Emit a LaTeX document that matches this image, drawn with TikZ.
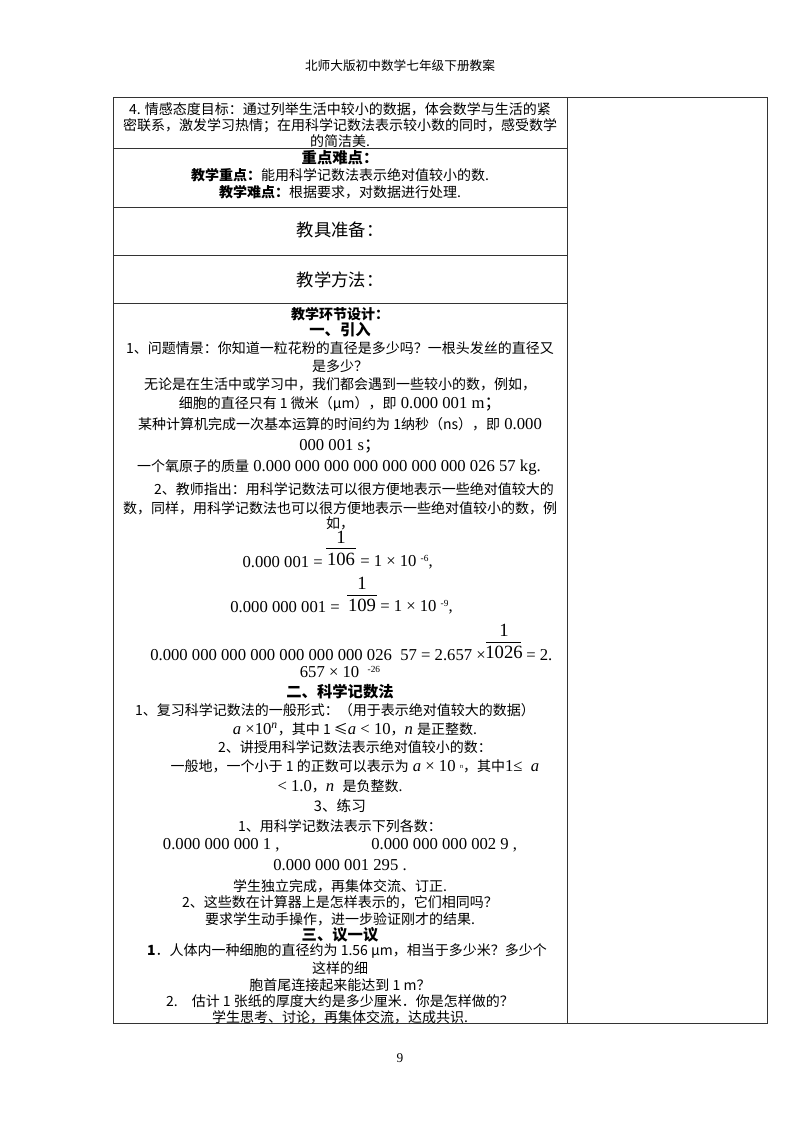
\documentclass[tikz,border=0pt]{standalone}
\usepackage{fontspec}
\setmainfont{Liberation Serif}
\newfontfamily\cjk{Noto Sans CJK SC}
\begin{document}
\begin{tikzpicture}[x=0.75pt,y=-0.75pt,
  t/.style={inner sep=0pt,font=\fontsize{10.5}{12}\selectfont\cjk},
  n/.style={inner sep=0pt,font=\fontsize{12.5}{14}\selectfont},
  fr/.style={inner sep=0pt,font=\fontsize{14}{16}\selectfont},
  h/.style={inner sep=0pt,font=\fontsize{10.5}{12}\selectfont\cjk\bfseries},
  big/.style={inner sep=0pt,font=\fontsize{13}{15}\selectfont\cjk},
  rule/.style={line width=0.6pt,draw=black!80}]
\useasboundingbox[fill=white] (0,0) rectangle (800,1132);
\node[t,font=\fontsize{9.5}{11}\selectfont\cjk] (hdr) at (400,66) {北师大版初中数学七年级下册教案};
\node[n,font=\fontsize{10}{11}\selectfont] (pg) at (400,1058) {9};
% table
\draw[rule] (113,97) rectangle (767,1023);
\draw[rule] (567,97) -- (567,1023);
\foreach \yy in {148,207,255,303} \draw[rule] (113,\yy) -- (567,\yy);
% row 1
\node[t] (a1) at (340,109) {4. 情感态度目标：通过列举生活中较小的数据，体会数学与生活的紧};
\node[t] (a2) at (340,126) {密联系，激发学习热情；在用科学记数法表示较小数的同时，感受数学};
\node[t] (a3) at (340,141) {的简洁美.};
\node[h,font=\fontsize{11.5}{13}\selectfont\cjk\bfseries] (b1) at (340,158) {重点难点：};
\node[t] (b2) at (340,175) {{\bfseries 教学重点：}能用科学记数法表示绝对值较小的数.};
\node[t] (b3) at (340,192) {{\bfseries 教学难点：}根据要求，对数据进行处理.};
\node[big] (c1) at (340,230) {教具准备：};
\node[big] (d1) at (340,280) {教学方法：};
% main
\node[h] (e1) at (340,314) {教学环节设计：};
\node[h,font=\fontsize{11.5}{13}\selectfont\cjk\bfseries] (e2) at (340,330) {一、引入};
\node[t] (e3) at (340,348) {1、问题情景：你知道一粒花粉的直径是多少吗？一根头发丝的直径又};
\node[t] (e4) at (340,366) {是多少？};
\node[t] (e5) at (340,384) {无论是在生活中或学习中，我们都会遇到一些较小的数，例如，};
\node[n] (e6) at (340,404) {{\cjk\fontsize{10.5}{12}\selectfont 细胞的直径只有 1 微米（μm），即} 0.000 001 m{\cjk ；}};
\node[n] (e7) at (340,424) {{\cjk\fontsize{10.5}{12}\selectfont 某种计算机完成一次基本运算的时间约为 1纳秒（ns），即} 0.000};
\node[n] (e8) at (340,446) {000 001 s{\cjk ；}};
\node[n] (e9) at (339,467) {{\cjk\fontsize{10.5}{12}\selectfont 一个氧原子的质量} 0.000 000 000 000 000 000 000 026 57 kg.};
\node[t] (e10) at (340,489) {\hspace{2em}2、教师指出：用科学记数法可以很方便地表示一些绝对值较大的};
\node[t] (e11) at (340,508) {数，同样，用科学记数法也可以很方便地表示一些绝对值较小的数，例};
\node[t] (e12) at (340,523) {如，};
% fractions
\node[fr] (f1n) at (341,537) {1};
\draw (326,548) -- (356,548);
\node[fr] (f1d) at (341,559) {106};
\node[n,anchor=east] (f1l) at (323,562) {0.000 001 =};
\node[n,anchor=west] (f1r) at (360,562) {= 1 × 10 \raisebox{0.6ex}{\scriptsize -6},};
\node[fr] (f2n) at (362,583) {1};
\draw (347,595) -- (377,595);
\node[fr] (f2d) at (362,605) {109};
\node[n,anchor=east] (f2l) at (340,607) {0.000 000 001 =};
\node[n,anchor=west] (f2r) at (380,607) {= 1 × 10 \raisebox{0.6ex}{\scriptsize -9},};
\node[fr] (f3n) at (504,630) {1};
\draw (486,642) -- (521,642);
\node[fr] (f3d) at (504,652) {1026};
\node[n,anchor=east] (f3l) at (486,655) {0.000 000 000 000 000 000 000 026 \ 57 = 2.657 ×};
\node[n,anchor=west] (f3r) at (526,655) {= 2.};
\node[n] (f3b) at (340,672) {657 × 10 \ \raisebox{0.6ex}{\scriptsize -26}};
\node[h,font=\fontsize{11.5}{13}\selectfont\cjk\bfseries] (g1) at (340,692) {二、科学记数法};
\node[t] (g2) at (335,710) {1、复习科学记数法的一般形式：（用于表示绝对值较大的数据）};
\node[n] (g3) at (355,729) {\textit{a} ×10\textsuperscript{\textit{n}}{\cjk\fontsize{10.5}{12}\selectfont ，其中 1 ≤}\textit{a} < 10{\cjk\fontsize{10.5}{12}\selectfont ，}\textit{n} {\cjk\fontsize{10.5}{12}\selectfont 是正整数.}};
\node[t] (g4) at (355,747) {2、讲授用科学记数法表示绝对值较小的数：};
\node[n] (g5) at (355,766) {{\cjk\fontsize{10.5}{12}\selectfont 一般地，一个小于 1 的正数可以表示为} \textit{a} × 10 \raisebox{0.3ex}{\tiny\textit{n}}{\cjk\fontsize{10.5}{12}\selectfont ，其中}1≤ \ \textit{a}};
\node[n] (g6) at (340,786) {< 1.0{\cjk\fontsize{10.5}{12}\selectfont ，}\textit{n} \ {\cjk\fontsize{10.5}{12}\selectfont 是负整数.}};
\node[t,font=\fontsize{11}{13}\selectfont\cjk] (g7) at (340,806) {3、练习};
\node[t] (g8) at (340,826) {1、用科学记数法表示下列各数：};
\node[n] (g9) at (340,845) {0.000 000 000 1 ,\hspace{5.5em}0.000 000 000 002 9 ,};
\node[n] (g10) at (340,865) {0.000 000 001 295 .};
\node[t] (g11) at (340,886) {学生独立完成，再集体交流、订正.};
\node[t] (g12) at (340,902) {2、这些数在计算器上是怎样表示的，它们相同吗？};
\node[t] (g13) at (340,919) {要求学生动手操作，进一步验证刚才的结果.};
\node[h,font=\fontsize{11.5}{13}\selectfont\cjk\bfseries] (k1) at (340,935) {三、议一议};
\node[t] (k2) at (347,951) {\textbf{1}．人体内一种细胞的直径约为 1.56 μm，相当于多少米？多少个};
\node[t] (k3) at (340,968) {这样的细};
\node[t] (k4) at (340,985) {胞首尾连接起来能达到 1 m？};
\node[t] (k5) at (340,1001) {2.\quad 估计 1 张纸的厚度大约是多少厘米．你是怎样做的？};
\node[t] (k6) at (340,1017) {学生思考、讨论，再集体交流，达成共识.};
\end{tikzpicture}
\end{document}
